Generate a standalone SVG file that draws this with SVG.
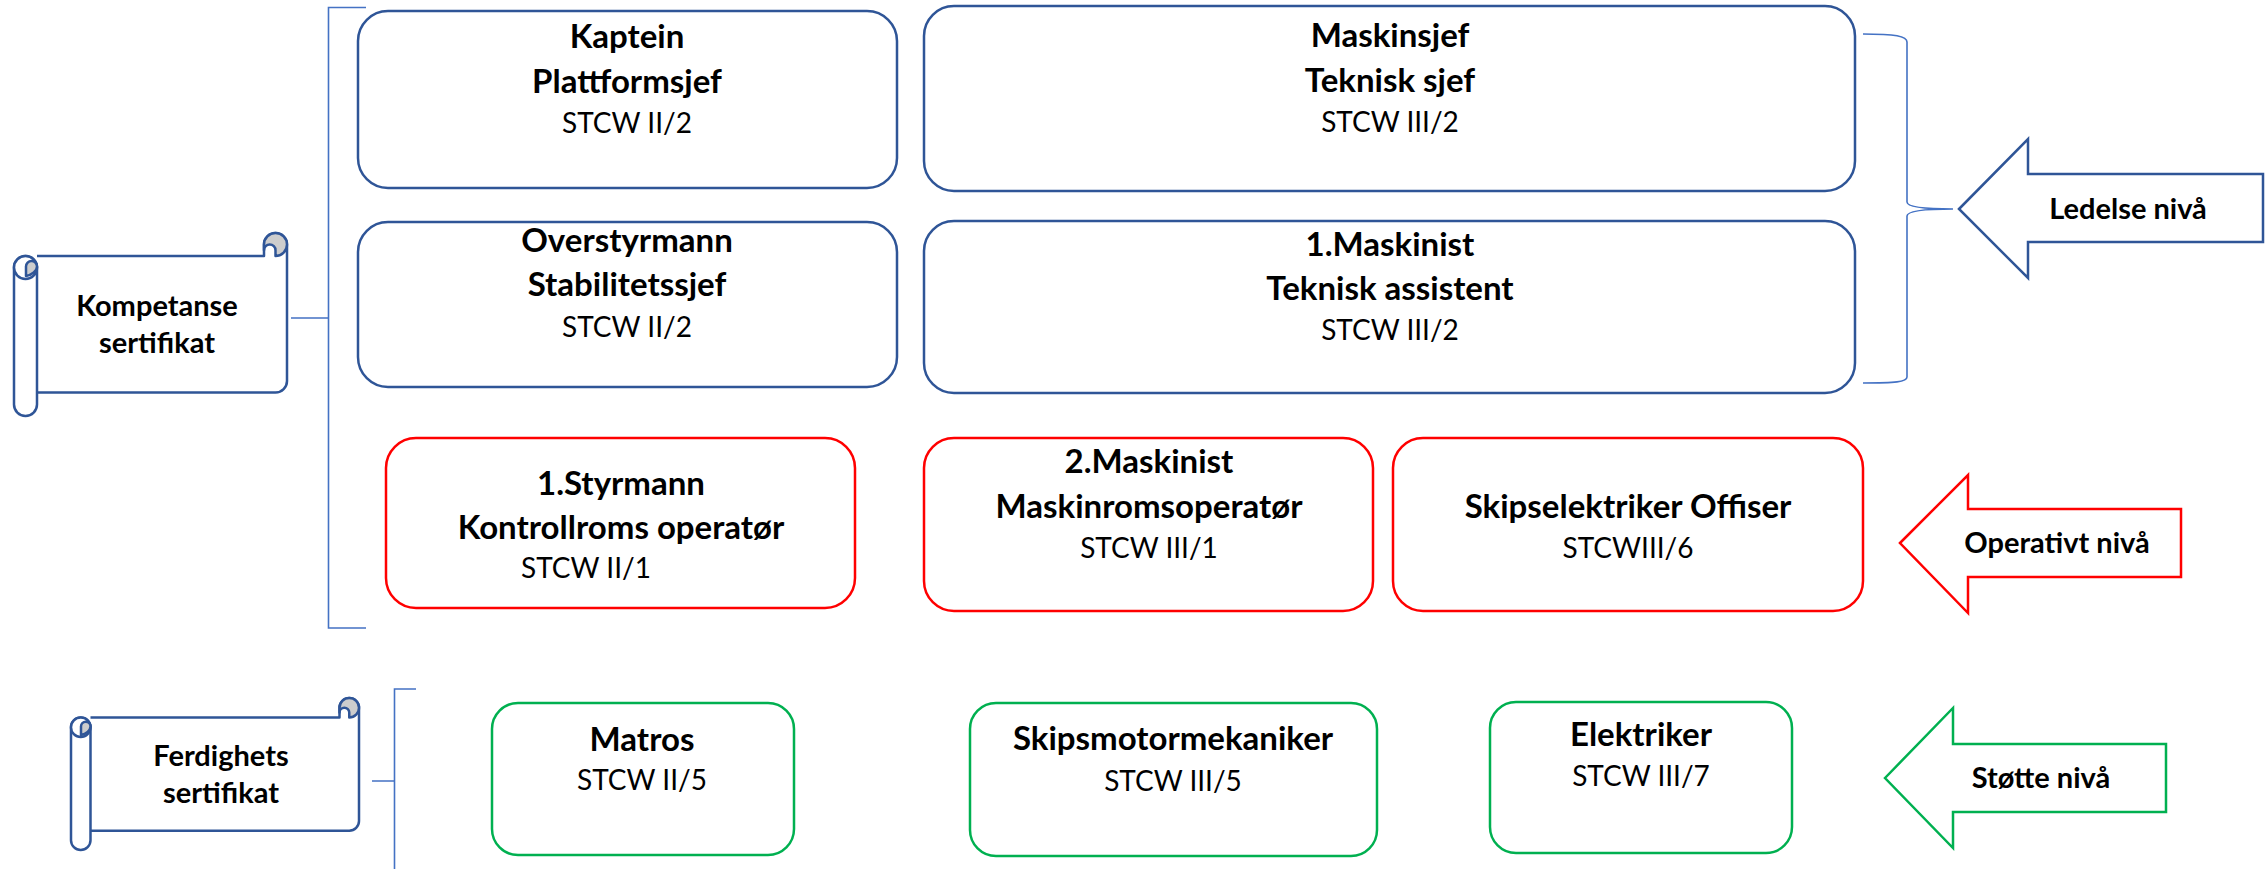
<svg xmlns="http://www.w3.org/2000/svg" width="2267" height="869" viewBox="0 0 2267 869">
<style>
text{font-family:Lato,"Liberation Sans",sans-serif;fill:#000;text-anchor:middle}
.t{font-weight:700;font-size:33px}
.s{font-weight:400;font-size:28px}
.l{font-weight:700;font-size:29px}
.bb{fill:#fff;stroke:#2F5597;stroke-width:2.5}
.rb{fill:#fff;stroke:#FF0000;stroke-width:2.5}
.gb{fill:#fff;stroke:#00B050;stroke-width:2.5}
.sc{fill:#fff;stroke:#2F5597;stroke-width:2.5;stroke-linejoin:round}
.gr{fill:#CDCDCD;stroke:#2F5597;stroke-width:2.5;stroke-linejoin:round}
.br{fill:none;stroke:#4472C4;stroke-width:1.6}
</style>
<rect width="2267" height="869" fill="#fff"/>
<g id="connectors">
<path class="br" d="M366,7.5 H328.5 V628 H366 M291,318 H328.5"/>
<path class="br" d="M1863,34 C1895,34 1907,36 1907,42 V202 C1907,207 1925,209 1953,209 C1925,209 1907,211 1907,216 V377 C1907,382 1895,383 1863,383"/>
<path class="br" d="M416,689 H394.5 V869 M372,781 H394.5"/>
</g>
<g id="kompetanse">
<path class="sc" d="M37,256 H264 V244.5 A11.5 11.5 0 0 1 287 244.5 V381 A11.5 11.5 0 0 1 275.5 392.5 H37"/>
<path class="gr" d="M264,244.5 A11.5 11.5 0 0 1 287,244.5 A11.5 11.5 0 0 1 275.5,256 V250.25 A5.75 5.75 0 0 0 264,250.25 Z"/>
<path class="sc" d="M14,267.5 V404.5 A11.5 11.5 0 0 0 37,404.5 V267.5 A11.5 11.5 0 0 0 14,267.5 Z"/>
<circle class="sc" cx="25.5" cy="267.5" r="11.5"/>
<path class="gr" d="M26,276 V266.5 A5.5 5.5 0 0 1 37,266.5 C37,271 32,275 26,276 Z"/>
<text class="l" x="157" y="316">Kompetanse</text>
<text class="l" x="157" y="353">sertifikat</text>
</g>
<g id="ferdighets">
<path class="sc" d="M90.5,717.5 H339.5 V707.75 A9.75 9.75 0 0 1 359 707.75 V821 A9.75 9.75 0 0 1 349.25 830.75 H90.5"/>
<path class="gr" d="M339.5,707.75 A9.75 9.75 0 0 1 359,707.75 A9.75 9.75 0 0 1 349.25,717.5 V712.6 A4.875 4.875 0 0 0 339.5,712.6 Z"/>
<path class="sc" d="M71,727.25 V840.25 A9.75 9.75 0 0 0 90.5,840.25 V727.25 A9.75 9.75 0 0 0 71,727.25 Z"/>
<circle class="sc" cx="80.75" cy="727.25" r="9.75"/>
<path class="gr" d="M81,735 V726.5 A4.75 4.75 0 0 1 90.5,726.5 C90.5,730.5 86,734 81,735 Z"/>
<text class="l" x="221" y="766">Ferdighets</text>
<text class="l" x="221" y="803">sertifikat</text>
</g>
<g id="kaptein">
<rect class="bb" x="358" y="11" width="539" height="177" rx="30"/>
<text class="t" x="627" y="48">Kaptein</text>
<text class="t" x="627" y="93">Plattformsjef</text>
<text class="s" x="627" y="133">STCW II/2</text>
</g>
<g id="overstyrmann">
<rect class="bb" x="358" y="222" width="539" height="165" rx="30"/>
<text class="t" x="627" y="252">Overstyrmann</text>
<text class="t" x="627" y="296">Stabilitetssjef</text>
<text class="s" x="627" y="337">STCW II/2</text>
</g>
<g id="maskinsjef">
<rect class="bb" x="924" y="6" width="931" height="185" rx="30"/>
<text class="t" x="1390" y="47">Maskinsjef</text>
<text class="t" x="1390" y="92">Teknisk sjef</text>
<text class="s" x="1390" y="132">STCW III/2</text>
</g>
<g id="maskinist1">
<rect class="bb" x="924" y="221" width="931" height="172" rx="30"/>
<text class="t" x="1390" y="256">1.Maskinist</text>
<text class="t" x="1390" y="300">Teknisk assistent</text>
<text class="s" x="1390" y="340">STCW III/2</text>
</g>
<g id="ledelse">
<polygon class="bb" points="1959,209 2028,139 2028,174 2263,174 2263,242 2028,242 2028,278"/>
<text class="l" x="2128" y="219">Ledelse nivå</text>
</g>
<g id="styrmann1">
<rect class="rb" x="386" y="438" width="469" height="170" rx="30"/>
<text class="t" x="621" y="495">1.Styrmann</text>
<text class="t" x="621" y="539">Kontrollroms operatør</text>
<text class="s" x="586" y="578">STCW II/1</text>
</g>
<g id="maskinist2">
<rect class="rb" x="924" y="438" width="449" height="173" rx="30"/>
<text class="t" x="1149" y="473">2.Maskinist</text>
<text class="t" x="1149" y="518">Maskinromsoperatør</text>
<text class="s" x="1149" y="558">STCW III/1</text>
</g>
<g id="skipselektriker">
<rect class="rb" x="1393" y="438" width="470" height="173" rx="30"/>
<text class="t" x="1628" y="518">Skipselektriker Offiser</text>
<text class="s" x="1628" y="558">STCWIII/6</text>
</g>
<g id="operativt">
<polygon class="rb" points="1900,543 1968,475 1968,509 2181,509 2181,577 1968,577 1968,613"/>
<text class="l" x="2057" y="553">Operativt nivå</text>
</g>
<g id="matros">
<rect class="gb" x="492" y="703" width="302" height="152" rx="26"/>
<text class="t" x="642" y="751">Matros</text>
<text class="s" x="642" y="790">STCW II/5</text>
</g>
<g id="skipsmotormekaniker">
<rect class="gb" x="970" y="703" width="407" height="153" rx="26"/>
<text class="t" x="1173" y="750">Skipsmotormekaniker</text>
<text class="s" x="1173" y="791">STCW III/5</text>
</g>
<g id="elektriker">
<rect class="gb" x="1490" y="702" width="302" height="151" rx="26"/>
<text class="t" x="1641" y="746">Elektriker</text>
<text class="s" x="1641" y="786">STCW III/7</text>
</g>
<g id="stotte">
<polygon class="gb" points="1885,778 1953,708 1953,744 2166,744 2166,812 1953,812 1953,848"/>
<text class="l" x="2041" y="788">Støtte nivå</text>
</g>
</svg>
